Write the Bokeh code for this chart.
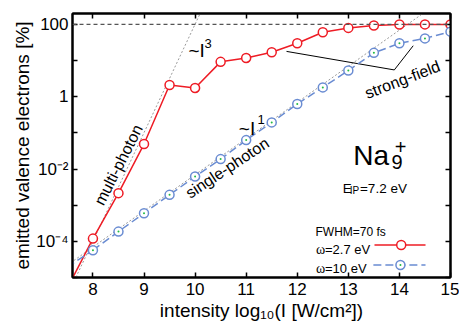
from bokeh.plotting import figure
from bokeh.models import FixedTicker, LinearAxis, LogAxis, CustomJSTickFormatter, Span
from bokeh.core.properties import value
from bokeh.embed import file_html
from bokeh.resources import INLINE

# ---------------- data ----------------
intensity = [8, 8.5, 9, 9.5, 10, 10.5, 11, 11.5, 12, 12.5, 13, 13.5, 14, 14.5, 15]
# emitted valence electrons [%], omega = 2.7 eV
ion_27 = [1.19e-4, 2.15e-3, 0.049, 2.11, 1.75, 9.2, 11.8, 16.9, 30, 60.5, 80, 93, 99, 100, 100]
# emitted valence electrons [%], omega = 10 eV
ion_10 = [5.7e-5, 1.86e-4, 6.0e-4, 1.93e-3, 6.2e-3, 0.0188, 0.063, 0.195, 0.63, 1.81, 5.3, 16.3, 30, 41, 63]
# curves continue below the first plotted marker
ext_intensity = [7.5, 8]
ext_27 = [5.1e-6, 1.19e-4]
ext_10 = [1.95e-5, 5.7e-5]

# power-law guides (~I^3 and ~I^1)
cubic_x = [7.5, 10.5]
cubic_y = [3.2e-6, 3.2e3]
linear_x = [7.5, 15]
linear_y = [2.2e-5, 695]
full_level = 100

# "strong-field" pointer
sf_x = [11.79, 13.90, 14.27]
sf_y = [17.9, 5.5, 25.7]

x_ticks = [8, 9, 10, 11, 12, 13, 14, 15]
y_ticks = [1e-5, 1e-4, 1e-3, 1e-2, 1e-1, 1, 10, 100]
y_label_exps = [2, 0, -2, -4]
y_tick_labels = ["100", "1", "10\u207b\u00b2", "10\u207b\u2074"]

RED = "#ee1c25"
BLUE = "#6a8cd2"
FONT = "Liberation Sans"

# ---------------- figure ----------------
p = figure(width=459, height=329, x_range=(7.6, 15.0), y_range=(1e-5, 200),
           y_axis_type="log", output_backend="svg", toolbar_location=None,
           min_border_left=72, min_border_right=9, min_border_top=13, min_border_bottom=52)
p.grid.visible = False
p.outline_line_color = "black"
p.outline_line_width = 2
p.background_fill_color = "white"
p.border_fill_color = "white"


def style_axis(ax, labels=True):
    ax.major_tick_in = 5
    ax.major_tick_out = 0
    ax.minor_tick_in = 0
    ax.minor_tick_out = 0
    ax.axis_line_width = 2
    ax.axis_line_color = "black"
    ax.major_tick_line_width = 1.5
    ax.major_tick_line_color = "black"
    ax.major_label_text_font = FONT
    ax.major_label_text_font_size = "17px"
    ax.major_label_text_color = "black"
    ax.axis_label_text_font = FONT
    ax.axis_label_text_font_size = "19px"
    ax.axis_label_text_font_style = "normal"
    ax.axis_label_text_color = "black"
    if not labels:
        ax.major_label_text_font_size = "0px"
        ax.major_label_standoff = 0


xax = p.xaxis[0]
xax.ticker = FixedTicker(ticks=x_ticks, minor_ticks=[])
style_axis(xax)
xax.major_label_standoff = 5
xax.axis_label = "intensity log\u2081\u2080(I [W/cm\u00b2])"
xax.axis_label_standoff = 2

yax = p.yaxis[0]
yax.ticker = FixedTicker(ticks=y_ticks, minor_ticks=[])
yax.formatter = CustomJSTickFormatter(
    args=dict(exps=y_label_exps, labels=y_tick_labels),
    code="""
    const e = Math.round(Math.log10(tick));
    const i = exps.indexOf(e);
    return i >= 0 ? labels[i] : "";
    """)
style_axis(yax)
yax.major_label_standoff = 4
yax.axis_label = "emitted valence electrons [%]"
yax.axis_label_standoff = 0

top = LinearAxis(ticker=FixedTicker(ticks=x_ticks, minor_ticks=[]),
                 formatter=CustomJSTickFormatter(code="return '';"))
style_axis(top, labels=False)
p.add_layout(top, "above")

right = LogAxis(ticker=FixedTicker(ticks=y_ticks, minor_ticks=[]),
                formatter=CustomJSTickFormatter(code="return '';"))
style_axis(right, labels=False)
p.add_layout(right, "right")

# ---------------- guides ----------------
p.line(cubic_x, cubic_y, line_color="#9a9a9a", line_width=1, line_dash="2 2")
p.line(linear_x, linear_y, line_color="#9a9a9a", line_width=1, line_dash="2 2")
p.add_layout(Span(location=full_level, dimension="width", line_color="#555555",
                  line_width=1.2, line_dash="4 3"))
p.line(sf_x, sf_y, line_color="black", line_width=1)

# ---------------- curves ----------------
p.line(ext_intensity, ext_27, line_color=RED, line_width=1.5)
p.line(ext_intensity, ext_10, line_color=BLUE, line_width=1.5, line_dash="8 4")
p.line(intensity, ion_27, line_color=RED, line_width=1.5)
p.line(intensity, ion_10, line_color=BLUE, line_width=1.5, line_dash="8 4")
p.scatter(intensity, ion_27, marker="circle", size=9, line_color=RED, line_width=1.5,
          fill_color="white")
p.scatter(intensity, ion_10, marker="circle", size=9, line_color=BLUE, line_width=1.5,
          fill_color="white")
p.scatter(intensity, ion_10, marker="circle", size=2, line_color=None, fill_color="#22bb44")

# ---------------- annotations ----------------
def txt(x, y, s, size, align="left", baseline="alphabetic", angle=0.0, font=FONT):
    p.text(x=[x], y=[y], text=[s], text_font=value(font), text_font_size=size,
           text_align=align, text_baseline=baseline, angle=angle, text_color="black")

txt(9.871, 18.8, "~I", "19px")
txt(10.184, 28.9, "3", "13px")
txt(10.856, 0.136, "~I", "19px")
txt(11.22, 0.241, "1", "13px")
txt(8.50, 0.0131, "multi-photon", "16px", align="center", baseline="middle", angle=1.10)
txt(10.63, 0.0108, "single-photon", "16px", align="center", baseline="middle", angle=0.585)
txt(14.06, 2.96, "strong-field", "16px", align="center", baseline="middle", angle=0.367)

txt(13.097, 0.0232, "Na", "28px")
txt(13.846, 0.0152, "9", "20px")
txt(13.91, 0.0413, "+", "20px")
txt(12.892, 0.0029, "E", "13.5px")
txt(13.027, 0.0026, "IP", "10px")
txt(13.228, 0.0029, "=7.2 eV", "13.5px")

# legend
txt(12.357, 1.82e-4, "FWHM=70 fs", "12px")
txt(12.367, 6.05e-5, "\u03c9", "14px", font="Liberation Serif")
txt(12.543, 6.05e-5, "=2.7 eV", "13px")
txt(12.367, 1.80e-5, "\u03c9", "14px", font="Liberation Serif")
txt(12.543, 1.80e-5, "=10 eV", "13px")
p.line([13.512, 14.511], [7.96e-5, 7.96e-5], line_color=RED, line_width=1.5)
p.scatter([14.035], [7.96e-5], marker="circle", size=9, line_color=RED, line_width=1.5,
          fill_color="white")
p.line([13.49, 14.511], [2.22e-5, 2.22e-5], line_color=BLUE, line_width=1.5, line_dash="8 4")
p.scatter([14.02], [2.22e-5], marker="circle", size=9, line_color=BLUE, line_width=1.5,
          fill_color="white")
p.scatter([14.02], [2.22e-5], marker="circle", size=2, line_color=None, fill_color="#22bb44")

open("out.html", "w").write(file_html(p, INLINE))
